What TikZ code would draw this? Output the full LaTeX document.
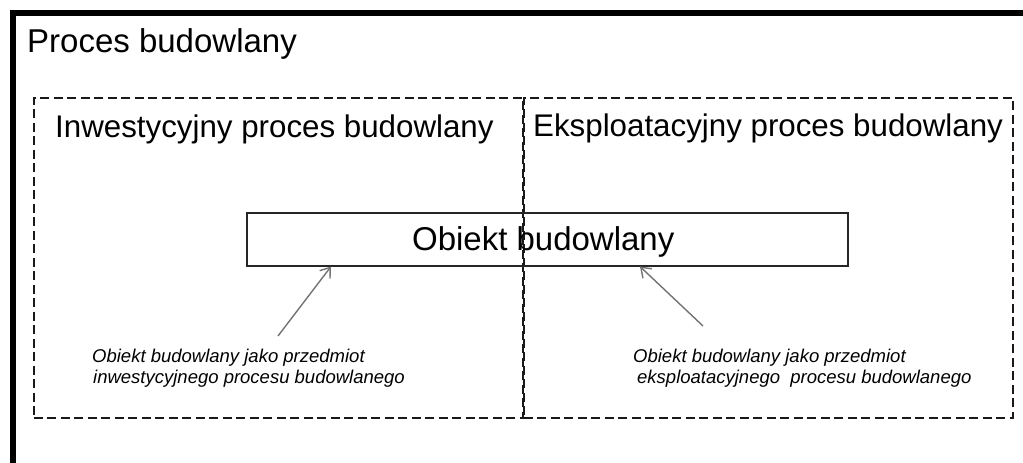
\documentclass[tikz,border=0pt]{standalone}
\usepackage{fontspec}
\setmainfont{Liberation Sans}
\usetikzlibrary{arrows.meta}
\tikzset{
  frame/.style={line width=6pt, draw=black},
  dbox/.style={draw=black!90, line width=1.5pt, dash pattern=on 9pt off 4.5pt, anchor=north west, inner sep=0pt},
  objbox/.style={draw=black!85, line width=1.5pt, anchor=north west, inner sep=0pt, minimum width=601pt, minimum height=53pt, text height=23pt, text depth=0pt, font=\fontsize{33}{36}\selectfont},
  ttl/.style={anchor=base west, inner sep=0pt, font=\fontsize{33}{36}\selectfont},
  sub/.style={anchor=base west, inner sep=0pt, font=\fontsize{31.3}{36}\selectfont},
  captxt/.style={anchor=base west, inner sep=0pt, align=left, font=\fontsize{18.5}{21}\selectfont\itshape},
  pointer/.style={draw=black!55, line width=1.4pt, -{Straight Barb[length=9pt,width=13pt]}}
}
\begin{document}
\begin{tikzpicture}[x=1pt,y=-1pt]
\useasboundingbox (0,0) rectangle (1023,463);
\clip (0,0) rectangle (1023,463);
\fill[white] (0,0) rectangle (1023,463);
% outer frame (extends beyond the page on right and bottom)
\draw[frame] (13,13) rectangle (1050,490);
\node[ttl] (proc) at (27,52) {Proces budowlany};
% two dashed boxes
\node[dbox, minimum width=489pt, minimum height=320pt] (inw) at (33,97) {};
\node[dbox, minimum width=489pt, minimum height=320pt] (eks) at (523,97) {};
\node[sub] (inwt) at (55,137) {Inwestycyjny proces budowlany};
\node[sub] (ekst) at (533,136) {Eksploatacyjny proces budowlany};
% object box
\node[objbox] (obj) at (246,212) {\hspace*{-8pt}Obiekt budowlany};
% captions
\node[captxt] (capL) at (92,383) {Obiekt budowlany jako przedmiot\\\hspace*{1pt}inwestycyjnego procesu budowlanego};
\node[captxt] (capR) at (633,383) {Obiekt budowlany jako przedmiot\\\hspace*{4pt}eksploatacyjnego\ \ procesu budowlanego};
% pointers
\coordinate (pL) at (278,336);
\coordinate (pR) at (703,326);
\draw[pointer] (pL) -- (obj.south -| 331,0);
\draw[pointer] (pR) -- (obj.south -| 640,0);
\end{tikzpicture}
\end{document}
